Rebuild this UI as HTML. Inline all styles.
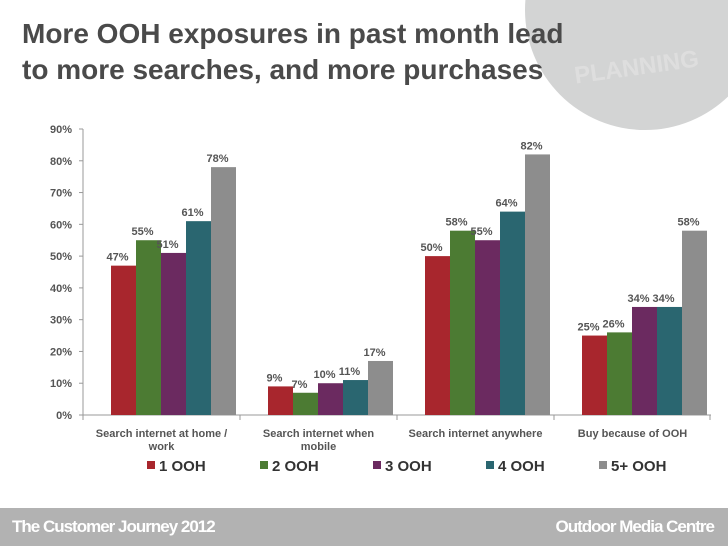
<!DOCTYPE html>
<html><head><meta charset="utf-8"><style>
html,body{margin:0;width:728px;height:546px;overflow:hidden}
body{background:#fff;font-family:"Liberation Sans",Arial,sans-serif}
#wrap{position:relative;width:728px;height:546px;overflow:hidden}
#circle{position:absolute;left:525px;top:-110px;width:240px;height:240px;border-radius:50%;background:#d3d4d4}
#plan{position:absolute;left:574px;top:54px;font-size:24px;font-weight:bold;color:#dedede;transform:rotate(-8deg)}
h1{position:absolute;left:22px;top:16px;margin:0;font-size:28px;line-height:36px;color:#4a4a4a;font-weight:bold;white-space:nowrap}
#footer{position:absolute;left:0;top:508px;width:728px;height:38px;background:#b2b2b2;color:#fff;font-weight:bold;font-size:17px;letter-spacing:-1px}
svg{position:absolute;left:0;top:0}
</style></head><body>
<div id="wrap">
<div id="circle"></div>
<div id="plan">PLANNING</div>
<h1>More OOH exposures in past month lead<br>to more searches, and more purchases</h1>
<svg id="chart" width="728" height="546"></svg>
<div id="footer">
<span style="position:absolute;left:12px;top:9px">The Customer Journey 2012</span>
<span style="position:absolute;right:14px;top:9px">Outdoor Media Centre</span>
</div>
</div>
<script>
const categories=[["Search internet at home /","work"],["Search internet when","mobile"],["Search internet anywhere"],["Buy because of OOH"]];
const seriesNames=["1 OOH","2 OOH","3 OOH","4 OOH","5+ OOH"];
const s1=[47,9,50,25];
const s2=[55,7,58,26];
const s3=[51,10,55,34];
const s4=[61,11,64,34];
const s5=[78,17,82,58];
const yTicks=[0,10,20,30,40,50,60,70,80,90];
const series=[s1,s2,s3,s4,s5];
const colors=["#a8262d","#4c7b33","#6b2a60","#2a6670","#8d8d8d"];
const NS="http://www.w3.org/2000/svg";
const svg=document.getElementById('chart');
const x0=83,x1=711,yb=415,yt=129;
const y=v=>yb-(v/90)*(yb-yt);
const band=(x1-x0)/4, bw=25;
const bx=(g,s)=>x0+band*g+28+bw*s;
function mk(t,a,txt){const e=document.createElementNS(NS,t);for(const k in a)e.setAttribute(k,a[k]);if(txt!=null)e.textContent=txt;svg.appendChild(e);return e;}
let e=mk('line',{x1:x0,y1:yt,x2:x0,y2:yb,stroke:'#999'});

e=mk('line',{x1:x0,y1:yb,x2:x1,y2:yb,stroke:'#999'});

yTicks.forEach(t=>{
 const l=mk('text',{x:72,y:y(t)+4,'text-anchor':'end','font-size':11,'font-weight':'bold',fill:'#555'},t+'%');
 
 const k=mk('line',{x1:x0-4,y1:y(t),x2:x0,y2:y(t),stroke:'#999'});
 
});
for(let g=0;g<=4;g++){const k=mk('line',{x1:Math.min(x0+band*g,710),y1:yb,x2:Math.min(x0+band*g,710),y2:yb+5,stroke:'#999'});
 }
series.forEach((s,si)=>s.forEach((v,g)=>{
 const r=mk('rect',{x:bx(g,si),y:y(v),width:bw,height:yb-y(v),fill:colors[si]});
 
 const t=mk('text',{x:bx(g,si)+bw/2-6,y:y(v)-5,'text-anchor':'middle','font-size':11,'font-weight':'bold',fill:'#555'},v+'%');
 
}));
categories.forEach((c,g)=>c.forEach((ln,i)=>{
 const t=mk('text',{x:x0+band*g+band/2,y:437+i*13,'text-anchor':'middle','font-size':11,'font-weight':'bold',fill:'#555'},ln);
 
}));
seriesNames.forEach((n,i)=>{
 const lx=147+i*113;
 const r=mk('rect',{x:lx,y:461,width:8,height:8,fill:colors[i]});
 
 const t=mk('text',{x:lx+12,y:471,'font-size':15,'font-weight':'bold',fill:'#333'},n);
 
});
</script>
</body></html>
